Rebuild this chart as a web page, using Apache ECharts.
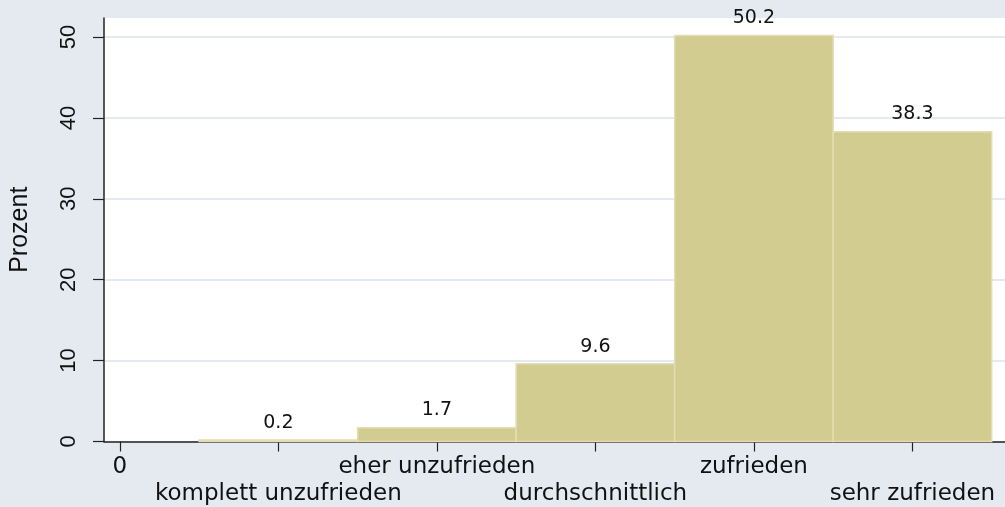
<!DOCTYPE html>
<html>
<head>
<meta charset="utf-8">
<script src="https://cdn.jsdelivr.net/npm/echarts@6/dist/echarts.min.js"></script>
<style>
  html, body { margin: 0; padding: 0; background: #e5eaf1; }
  #chart { width: 1005px; height: 507px; }
</style>
</head>
<body>
<div id="chart"></div>
<script>
const categories = ["0", "komplett unzufrieden", "eher unzufrieden", "durchschnittlich", "zufrieden", "sehr zufrieden"];
const tickValues = [0, 1, 2, 3, 4, 5];
const barPositions = [1, 2, 3, 4, 5];
const percent = [0.2, 1.7, 9.6, 50.2, 38.3];
const yTicks = [0, 10, 20, 30, 40, 50];

// horizontal text in the reference is stretched wide, DejaVu matches its widths
const wideFont = "'DejaVu Sans', sans-serif";
const font = "'Liberation Sans', Arial, Helvetica, sans-serif";
const chart = echarts.init(document.getElementById("chart"), null, { renderer: "canvas" });

chart.setOption({
  backgroundColor: "#e5eaf1",
  animation: false,
  grid: {
    left: 104, right: 0, top: 18, bottom: 65.5,
    outerBoundsMode: "none",
    show: true, backgroundColor: "#ffffff", borderWidth: 0
  },
  xAxis: {
    type: "value",
    min: -0.1,
    max: 5.584,
    axisLine: { show: true, onZero: false, lineStyle: { color: "#222", width: 1.5 } },
    axisTick: { show: true, length: 10, customValues: tickValues, lineStyle: { color: "#222", width: 1.2 } },
    axisLabel: {
      customValues: tickValues,
      margin: 12,
      fontSize: 23,
      lineHeight: 27,
      color: "#111",
      fontFamily: wideFont,
      formatter: (v) => {
        const i = Math.round(v);
        return i % 2 === 1 ? "\n" + categories[i] : categories[i];
      }
    },
    splitLine: { show: false }
  },
  yAxis: {
    type: "value",
    min: 0,
    max: 52.35,
    name: "Prozent",
    nameLocation: "middle",
    nameGap: 71,
    nameTextStyle: { fontSize: 25, color: "#111", fontFamily: font },
    axisLine: { show: true, onZero: false, lineStyle: { color: "#222", width: 1.5 } },
    axisTick: { show: true, length: 11, customValues: yTicks, lineStyle: { color: "#222", width: 1.2 } },
    axisLabel: {
      customValues: yTicks,
      rotate: 90,
      margin: 24,
      fontSize: 22,
      color: "#111",
      fontFamily: font
    },
    splitLine: { show: true, lineStyle: { color: "#e5eaf1", width: 2 } }
  },
  series: [{
    type: "custom",
    data: barPositions.map((x, i) => [x, percent[i]]),
    renderItem: (params, api) => {
      const x = api.value(0);
      const y = api.value(1);
      const p0 = api.coord([x - 0.5, y]);
      const p1 = api.coord([x + 0.5, 0]);
      return {
        type: "rect",
        shape: { x: p0[0], y: p0[1], width: p1[0] - p0[0], height: p1[1] - p0[1] },
        style: { fill: "#d3cc91", stroke: "#e2ddb3", lineWidth: 1.5 },
        textContent: {
          style: { text: y.toFixed(1), fontSize: 19, fill: "#111", fontFamily: wideFont }
        },
        textConfig: { position: "top", distance: 7 }
      };
    }
  }]
});
</script>
</body>
</html>
